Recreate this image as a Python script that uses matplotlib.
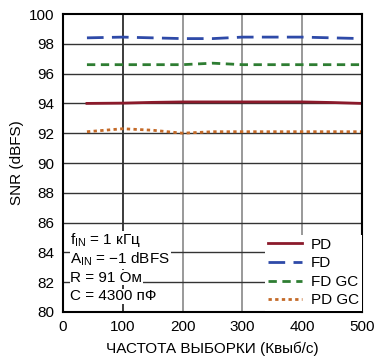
import numpy as np
import matplotlib.pyplot as plt

plt.rcParams['font.family'] = ['Liberation Sans', 'DejaVu Sans']

# Data
rate = [40, 100, 150, 200, 250, 300, 350, 400, 450, 500]
pd_snr = [94.0, 94.02, 94.07, 94.1, 94.1, 94.1, 94.1, 94.1, 94.06, 94.0]
fd_snr = [98.4, 98.45, 98.4, 98.35, 98.35, 98.45, 98.45, 98.45, 98.4, 98.35]
fdgc_snr = [96.6, 96.6, 96.6, 96.6, 96.7, 96.6, 96.6, 96.6, 96.6, 96.6]
pdgc_snr = [92.1, 92.3, 92.2, 92.0, 92.1, 92.1, 92.1, 92.1, 92.1, 92.1]

fig = plt.figure(figsize=(3.76, 3.63), dpi=100)
ax = fig.add_axes([0.1676, 0.1405, 0.7954, 0.8209])

ax.plot(rate, pd_snr, color='#8b1a2b', lw=2.0, label='PD')
ax.plot(rate, fd_snr, color='#2e4aa8', lw=2.0, dashes=(6, 3), label='FD')
ax.plot(rate, fdgc_snr, color='#2e7d32', lw=2.0, dashes=(3, 2), label='FD GC')
ax.plot(rate, pdgc_snr, color='#c46a28', lw=2.0, dashes=(1.2, 1.2), label='PD GC')

ax.set_xlim(0, 500)
ax.set_ylim(80, 100)
ax.set_xticks(np.arange(0, 501, 100))
ax.set_yticks(np.arange(80, 101, 2))
ax.tick_params(length=0, labelsize=11, pad=6)
for x in [100, 200, 300, 400]:
    ax.axvline(x, color='#1a1a1a' if x == 100 else '#888888', lw=1.2, zorder=0)
for y in range(82, 100, 2):
    ax.axhline(y, color='#333333', lw=1.0, zorder=0)
for s in ax.spines.values():
    s.set_linewidth(1.5)
    s.set_color('black')

ax.set_xlabel('ЧАСТОТА ВЫБОРКИ (Квыб/с)', fontsize=11, labelpad=5)
ax.set_ylabel('SNR (dBFS)', fontsize=11, labelpad=4)

info = ['$\\mathregular{f_{IN}}$ = 1 кГц', '$\\mathregular{A_{IN}}$ = \u22121 dBFS',
        'R = 91 Ом', 'C = 4300 пФ']
for i, t in enumerate(info):
    ax.text(0.025, 0.24 - i * 0.0625, t, transform=ax.transAxes, fontsize=11,
            va='center', ha='left',
            bbox=dict(facecolor='white', edgecolor='none', pad=0.5))

leg = ax.legend(loc='lower left', bbox_to_anchor=(0.675, 0.005), fontsize=11,
                frameon=True, fancybox=False, borderpad=0.2, labelspacing=0.3,
                handlelength=2.2, handletextpad=0.6, borderaxespad=0.0)
leg.get_frame().set_edgecolor('none')
leg.get_frame().set_facecolor('white')
leg.get_frame().set_alpha(1)

fig.savefig('out.png', dpi=100)
